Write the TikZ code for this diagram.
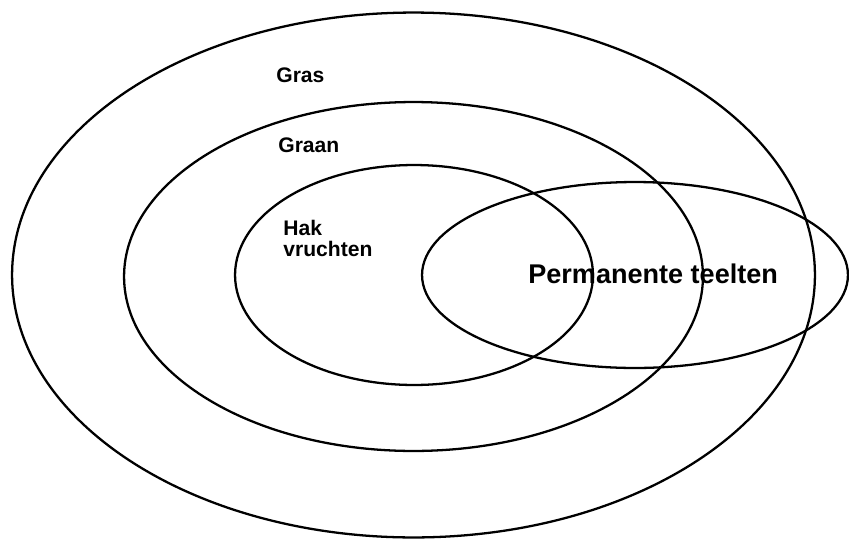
\documentclass[tikz,border=0pt]{standalone}
\usepackage{fontspec}
\setmainfont{Liberation Sans}
\usetikzlibrary{shapes.geometric}

\tikzset{
	zone/.style={shape=ellipse, draw, line width=1.3pt, inner sep=0pt},
	zonelabel/.style={anchor=base west, inner sep=0pt, font=\bfseries\fontsize{12}{14}\selectfont}
}

\begin{document}
\begin{tikzpicture}[x=0.02cm, y=-0.02cm]
			\useasboundingbox (0, 0) rectangle (849, 538);
			\node[zone, minimum width=16.06cm, minimum height=10.5cm] (gras) at (413.5, 275){};
			\node[zone, minimum width=11.58cm, minimum height=6.98cm] (graan) at (413.5, 276.5){};
			\node[zone, minimum width=7.16cm, minimum height=4.4cm] (hak) at (414, 275){};
			\node[zone, minimum width=8.52cm, minimum height=3.72cm] (perm) at (635, 275){};
			\node[zonelabel] (grastext) at (276, 82){Gras};
			\node[zonelabel] (graantext) at (278, 152){Graan};
			\node[zonelabel] (haktext) at (283, 235){Hak};
			\node[zonelabel] (vruchtentext) at (283, 256){vruchten};
			\node[zonelabel, font=\bfseries\fontsize{15.4}{18}\selectfont] (permtext) at (528, 283){Permanente teelten};
		\end{tikzpicture}
\end{document}
